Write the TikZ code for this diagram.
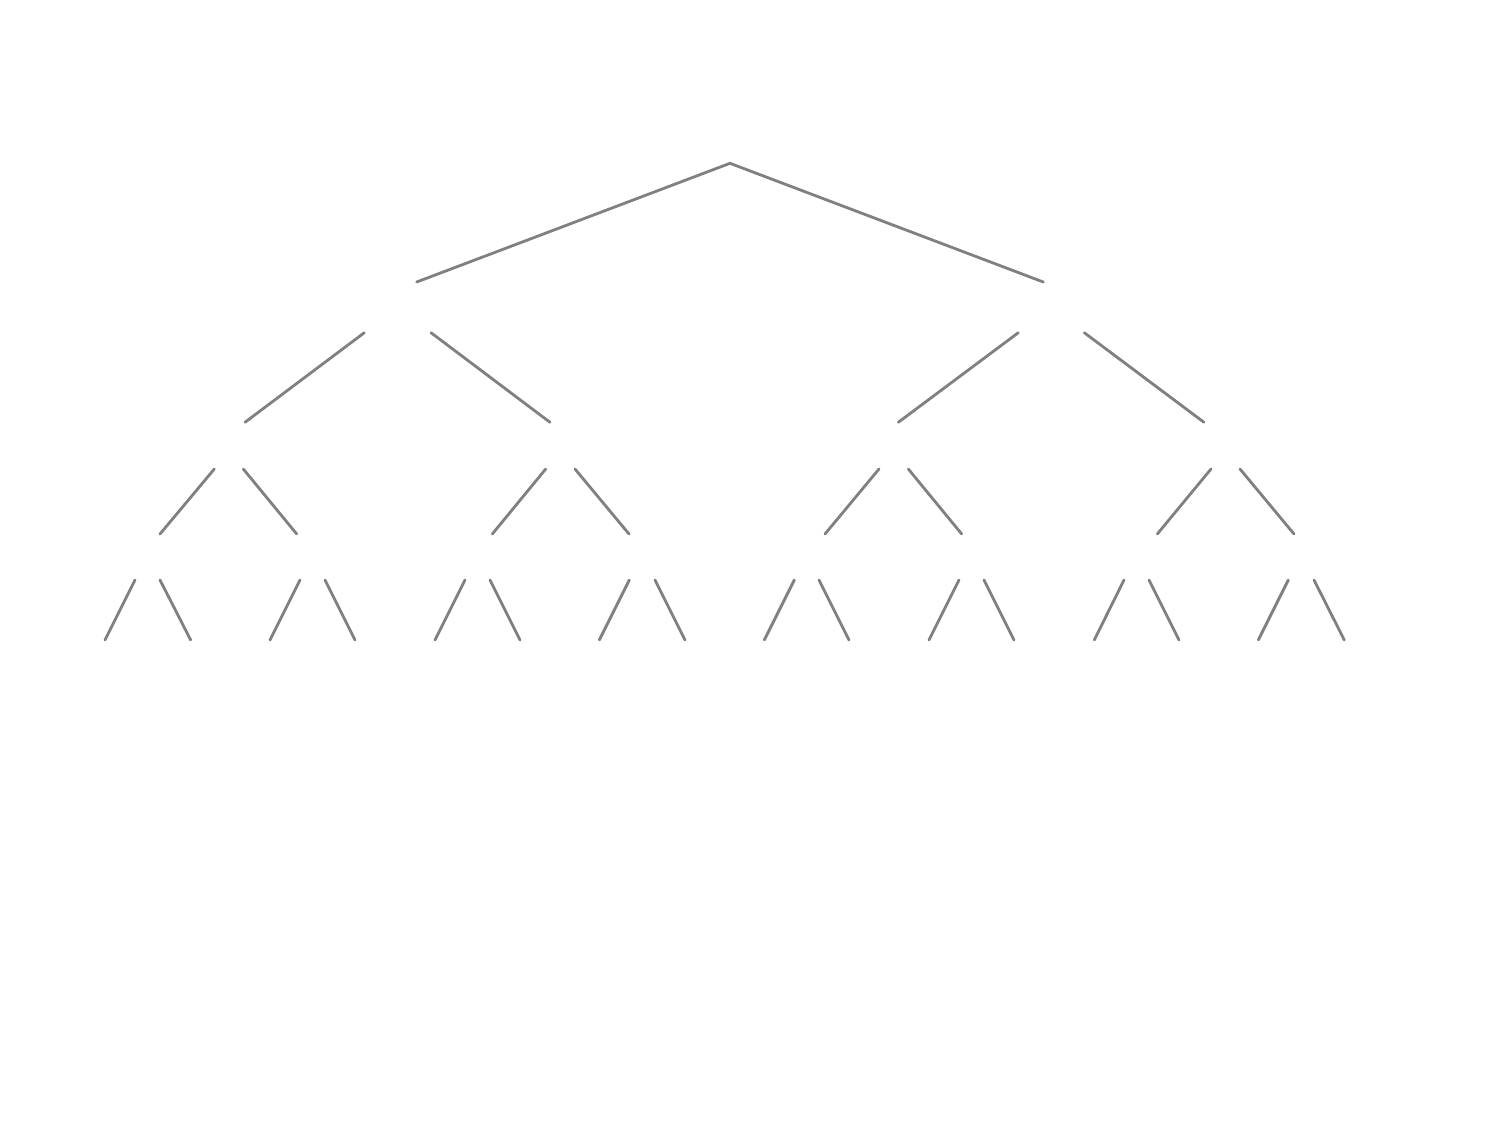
\documentclass[tikz,border=0pt]{standalone}
\begin{document}
\begin{tikzpicture}[edge/.style={draw={rgb,255:red,128;green,128;blue,128}, line width=0.8pt, line cap=round}]
\useasboundingbox (0,0) rectangle (15,-11.25);
% root
\coordinate (r) at (7.30,-1.633);
% level 1
\coordinate (aT) at (4.167,-2.82);  \coordinate (aL) at (3.643,-3.327); \coordinate (aR) at (4.31,-3.327);
\coordinate (bT) at (10.433,-2.82); \coordinate (bL) at (10.183,-3.327); \coordinate (bR) at (10.843,-3.327);
% level 2
\coordinate (aaT) at (2.45,-4.223);  \coordinate (aaL) at (2.143,-4.69); \coordinate (aaR) at (2.433,-4.69);
\coordinate (abT) at (5.50,-4.223);  \coordinate (abL) at (5.457,-4.69); \coordinate (abR) at (5.75,-4.69);
\coordinate (baT) at (8.983,-4.223); \coordinate (baL) at (8.79,-4.69);  \coordinate (baR) at (9.083,-4.69);
\coordinate (bbT) at (12.04,-4.223); \coordinate (bbL) at (12.11,-4.69); \coordinate (bbR) at (12.40,-4.69);
% level 3
\coordinate (aaaT) at (1.60,-5.34);   \coordinate (aaaL) at (1.35,-5.80);   \coordinate (aaaR) at (1.60,-5.80);
\coordinate (aabT) at (2.967,-5.34);  \coordinate (aabL) at (3.00,-5.80);   \coordinate (aabR) at (3.25,-5.80);
\coordinate (abaT) at (4.923,-5.34);  \coordinate (abaL) at (4.65,-5.80);   \coordinate (abaR) at (4.90,-5.80);
\coordinate (abbT) at (6.29,-5.34);   \coordinate (abbL) at (6.293,-5.80);  \coordinate (abbR) at (6.55,-5.80);
\coordinate (baaT) at (8.25,-5.34);   \coordinate (baaL) at (7.943,-5.80);  \coordinate (baaR) at (8.19,-5.80);
\coordinate (babT) at (9.617,-5.34);  \coordinate (babL) at (9.59,-5.80);   \coordinate (babR) at (9.84,-5.80);
\coordinate (bbaT) at (11.573,-5.34); \coordinate (bbaL) at (11.24,-5.80);  \coordinate (bbaR) at (11.49,-5.80);
\coordinate (bbbT) at (12.94,-5.34);  \coordinate (bbbL) at (12.883,-5.80); \coordinate (bbbR) at (13.14,-5.80);
% leaves
\coordinate (l1) at (1.05,-6.40);   \coordinate (l2) at (1.907,-6.40);
\coordinate (l3) at (2.70,-6.40);   \coordinate (l4) at (3.55,-6.40);
\coordinate (l5) at (4.35,-6.40);   \coordinate (l6) at (5.20,-6.40);
\coordinate (l7) at (5.993,-6.40);  \coordinate (l8) at (6.85,-6.40);
\coordinate (l9) at (7.643,-6.40);  \coordinate (l10) at (8.49,-6.40);
\coordinate (l11) at (9.29,-6.40);  \coordinate (l12) at (10.14,-6.40);
\coordinate (l13) at (10.943,-6.40); \coordinate (l14) at (11.79,-6.40);
\coordinate (l15) at (12.583,-6.40); \coordinate (l16) at (13.443,-6.40);
% edges
\draw[edge] (aT) -- (r) -- (bT);
\draw[edge] (aL) -- (aaT); \draw[edge] (aR) -- (abT);
\draw[edge] (bL) -- (baT); \draw[edge] (bR) -- (bbT);
\draw[edge] (aaL) -- (aaaT); \draw[edge] (aaR) -- (aabT);
\draw[edge] (abL) -- (abaT); \draw[edge] (abR) -- (abbT);
\draw[edge] (baL) -- (baaT); \draw[edge] (baR) -- (babT);
\draw[edge] (bbL) -- (bbaT); \draw[edge] (bbR) -- (bbbT);
\draw[edge] (aaaL) -- (l1);  \draw[edge] (aaaR) -- (l2);
\draw[edge] (aabL) -- (l3);  \draw[edge] (aabR) -- (l4);
\draw[edge] (abaL) -- (l5);  \draw[edge] (abaR) -- (l6);
\draw[edge] (abbL) -- (l7);  \draw[edge] (abbR) -- (l8);
\draw[edge] (baaL) -- (l9);  \draw[edge] (baaR) -- (l10);
\draw[edge] (babL) -- (l11); \draw[edge] (babR) -- (l12);
\draw[edge] (bbaL) -- (l13); \draw[edge] (bbaR) -- (l14);
\draw[edge] (bbbL) -- (l15); \draw[edge] (bbbR) -- (l16);
\end{tikzpicture}
\end{document}
